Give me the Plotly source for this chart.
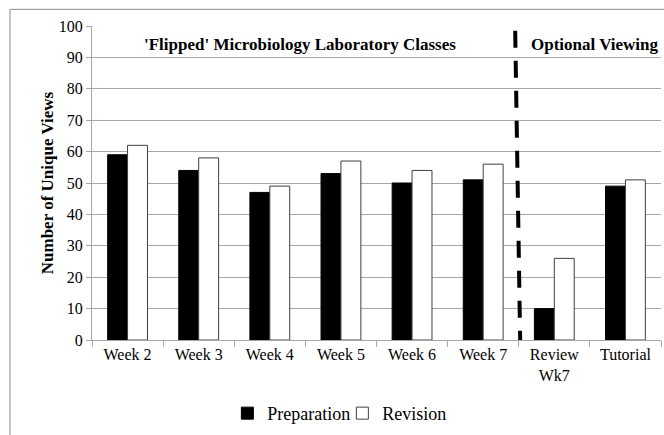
import plotly.graph_objects as go

categories = ["Week 2", "Week 3", "Week 4", "Week 5", "Week 6", "Week 7", "Review<br>Wk7", "Tutorial"]
preparation = [59, 54, 47, 53, 50, 51, 10, 49]
revision = [62, 58, 49, 57, 54, 56, 26, 51]
y_ticks = list(range(0, 101, 10))

serif = "Liberation Serif"
grid = "#a6a6a6"

fig = go.Figure()
fig.add_trace(go.Bar(x=categories, y=preparation, name="Preparation",
                     marker=dict(color="black", line=dict(color="black", width=1))))
fig.add_trace(go.Bar(x=categories, y=revision, name="Revision",
                     marker=dict(color="white", line=dict(color="#404040", width=1))))

# divider between lab classes and optional viewing
fig.add_shape(type="line", xref="x", yref="y", x0=5.45, x1=5.52, y0=98.5, y1=0,
              line=dict(color="black", width=4, dash="17px,13px"))

fig.add_annotation(text="<b>'Flipped' Microbiology Laboratory Classes</b>", xref="x", yref="y",
                   x=2.43, y=94, showarrow=False, font=dict(size=17, family=serif, color="black"))
fig.add_annotation(text="<b>Optional Viewing</b>", xref="x", yref="y",
                   x=6.57, y=94, showarrow=False, font=dict(size=17, family=serif, color="black"))

# outer chart frame (right and bottom edges fall outside the picture)
fig.add_shape(type="rect", xref="paper", yref="paper", x0=-0.1441, x1=1.2, y0=-0.5, y1=1.053,
              line=dict(color="#8c8c8c", width=1))

fig.update_layout(
    width=664, height=435,
    margin=dict(l=92, r=3, t=26, b=87),
    paper_bgcolor="white", plot_bgcolor="white",
    barmode="group", bargap=0.44, bargroupgap=0,
    font=dict(family=serif, size=16, color="black"),
    showlegend=True,
    legend=dict(orientation="h", x=0.44, xanchor="center", y=-0.175, yanchor="top",
                font=dict(size=18, family=serif), itemwidth=30, entrywidth=70),
)
fig.update_xaxes(showline=True, linecolor=grid, ticks="outside", tickcolor=grid, ticklen=6,
                 tickson="boundaries", showgrid=False, tickfont=dict(size=16), automargin=False)
fig.update_yaxes(range=[0, 100], tickvals=y_ticks, showline=True, linecolor=grid,
                 ticks="outside", tickcolor=grid, ticklen=5, gridcolor=grid, gridwidth=1,
                 zeroline=False, tickfont=dict(size=16), automargin=False,
                 title=dict(text="<b>Number of Unique Views</b>", font=dict(size=17, family=serif),
                            standoff=0))

fig.write_html("out.html", config={"displayModeBar": False},
               post_script="document.body.style.margin='0';")
